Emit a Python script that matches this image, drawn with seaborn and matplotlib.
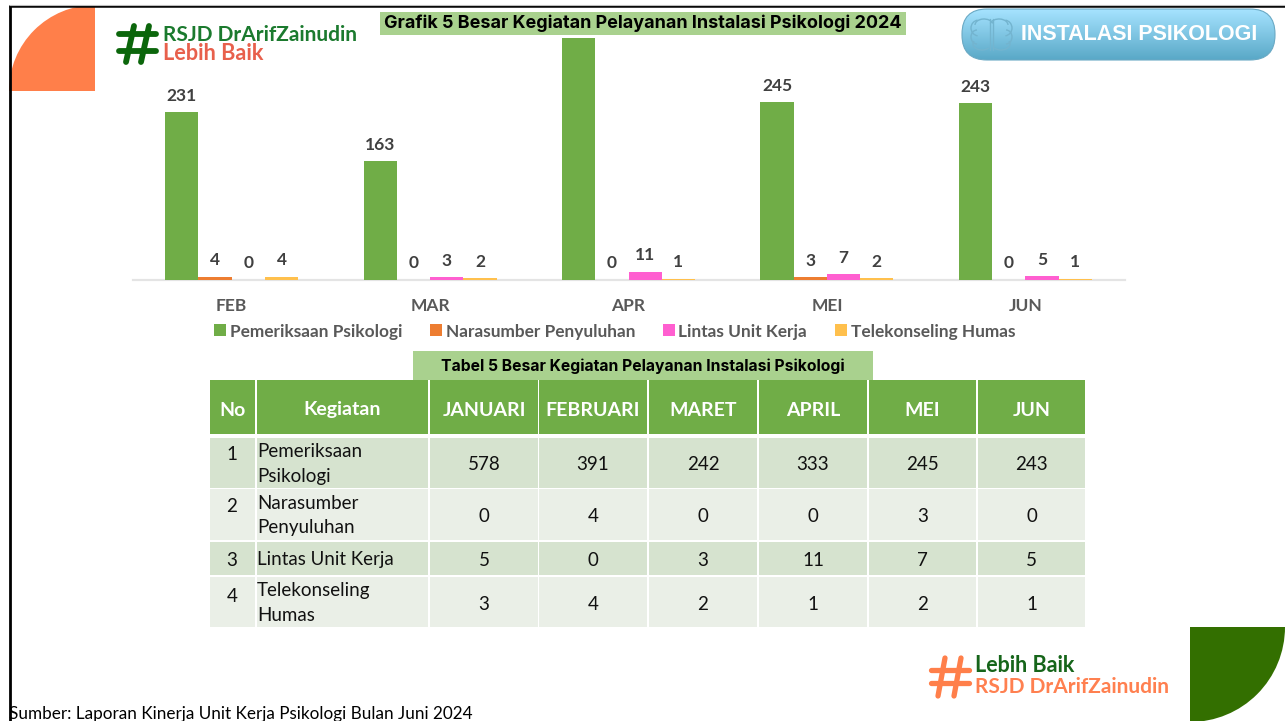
import numpy as np
import pandas as pd
import matplotlib
matplotlib.use('Agg')
import matplotlib.pyplot as plt
import seaborn as sns
from matplotlib.patches import Rectangle, Wedge, FancyBboxPatch, Arc
from matplotlib.lines import Line2D

# chart values
months = ['FEB', 'MAR', 'APR', 'MEI', 'JUN']
pemeriksaan = [231, 163, 333, 245, 243]
narasumber = [4, 0, 0, 3, 0]
lintas = [0, 3, 11, 7, 5]
telekonseling = [4, 2, 1, 2, 1]
series_names = ['Pemeriksaan Psikologi', 'Narasumber Penyuluhan', 'Lintas Unit Kerja', 'Telekonseling Humas']
series_colors = ['#70AD47', '#ED7D31', '#FF5FD0', '#FFC04D']

# table values
table_header = ['No', 'Kegiatan', 'JANUARI', 'FEBRUARI', 'MARET', 'APRIL', 'MEI', 'JUN']
table_no = ['1', '2', '3', '4']
table_names = ['Pemeriksaan\nPsikologi', 'Narasumber\nPenyuluhan', 'Lintas Unit Kerja', 'Telekonseling\nHumas']
table_rows = [
    [578, 391, 242, 333, 245, 243],
    [0, 4, 0, 0, 3, 0],
    [5, 0, 3, 11, 7, 5],
    [3, 4, 2, 1, 2, 1],
]

sns.set_theme(style='white')
plt.rcParams['font.family'] = ['Lato', 'DejaVu Sans']

W, H = 1285, 721
fig = plt.figure(figsize=(W / 100, H / 100), dpi=100, facecolor='white')

# ---- bar chart ----
ax = fig.add_axes([132.5 / W, 1 - 279.5 / H, (1124 - 132) / W, (279.5 - 10) / H])
df = pd.DataFrame({
    'bulan': months * 4,
    'kegiatan': np.repeat(series_names, len(months)),
    'jumlah': pemeriksaan + narasumber + lintas + telekonseling,
})
sns.barplot(data=df, x='bulan', y='jumlah', hue='kegiatan', hue_order=series_names,
            palette=series_colors, width=0.67, gap=0, saturation=1, linewidth=0, ax=ax, legend=True)
ax.set_xlim(-0.5, 4.5)
ax.set_ylim(0, 372)
ax.set_xlabel('')
ax.set_ylabel('')
ax.set_yticks([])
for c, vals in zip(ax.containers, [pemeriksaan, narasumber, lintas, telekonseling]):
    # the APR label sits behind the title bar in the original, so it stays blank
    labels = ['' if v == 333 else str(v) for v in vals]
    ax.bar_label(c, labels=labels, padding=6, fontsize=12.5, fontweight='bold', color='#404040')
sns.despine(ax=ax, left=True)
ax.spines['bottom'].set_color('#E4E4E4')
ax.spines['bottom'].set_linewidth(1.6)
ax.spines['bottom'].set_zorder(0.5)
ax.tick_params(axis='x', length=0, pad=13.5, labelsize=12.5, labelcolor='#595959')
for t in ax.get_xticklabels():
    t.set_fontweight('bold')
ax.patch.set_alpha(0)
ax.legend(loc='center', bbox_to_anchor=((614.5 - 132.5) / 992, (279.5 - 331.5) / 269.5), ncol=4, frameon=False,
          prop={'size': 12.4, 'weight': 'bold'}, labelcolor='#595959',
          handlelength=0.69, handleheight=0.69, handletextpad=0.23, columnspacing=1.6,
          borderpad=0, borderaxespad=0)

# ---- everything else, in pixel coordinates ----
ov = fig.add_axes([0, 0, 1, 1], zorder=5)
ov.set_xlim(0, W)
ov.set_ylim(H, 0)
ov.axis('off')

# slide border
ov.add_line(Line2D([9.5, 9.5], [5, H], color='black', lw=2, solid_capstyle='butt'))
ov.add_line(Line2D([9, W], [6, 6], color='black', lw=1.8, solid_capstyle='butt'))
ov.add_line(Line2D([9, W], [4.5, 4.5], color='#BDBDBD', lw=0.8, solid_capstyle='butt'))

# corner shapes
ov.add_patch(Wedge((95, 91), 86, 180, 270, fc='#FF7F4A', ec='none'))
ov.add_patch(Wedge((1190, 627), 95, 0, 90, fc='#336F00', ec='none'))


def draw_hash(x0, x1, ys, tops, bottoms, y_top, y_bot, color, lw):
    for y in ys:
        ov.add_line(Line2D([x0, x1], [y, y], color=color, lw=lw, solid_capstyle='round'))
    for a, b in zip(tops, bottoms):
        ov.add_line(Line2D([a, b], [y_top, y_bot], color=color, lw=lw, solid_capstyle='round'))


# top logo
draw_hash(119, 156, [34, 51], [134, 149], [126, 141], 26, 62, '#0B660B', 4.2)
ov.text(163, 35, 'RSJD DrArifZainudin', fontsize=15.05, fontweight='bold', color='#1B7A2E', va='center')
ov.text(163, 53, 'Lebih Baik', fontsize=15.6, fontweight='bold', color='#E8604C', va='center')

# bottom logo
draw_hash(931, 969, [670, 683], [945, 961], [938, 954], 658, 696, '#FF7F4A', 3.8)
ov.text(975, 665, 'Lebih Baik', fontsize=15.5, fontweight='bold', color='#16651A', va='center')
ov.text(975, 687, 'RSJD DrArifZainudin', fontsize=15.05, fontweight='bold', color='#FF8050', va='center')

# title bars
ov.add_patch(Rectangle((380, 12), 526, 23, fc='#A9D18E', ec='none'))
ov.text(643, 23, 'Grafik 5 Besar Kegiatan Pelayanan Instalasi Psikologi 2024', fontsize=12.95,
        family='Inter', fontweight='bold', color='black', ha='center', va='center')
ov.add_patch(Rectangle((413, 351), 460, 29, fc='#A9D18E', ec='none'))
ov.text(643, 366, 'Tabel 5 Besar Kegiatan Pelayanan Instalasi Psikologi', fontsize=11.3,
        family='Inter', fontweight='bold', color='black', ha='center', va='center')

# button with gradient
grad = np.linspace(0, 1, 64)[:, None, None] * (np.array([0.35, 0.66, 0.78]) - np.array([0.65, 0.89, 1.0])) + np.array([0.65, 0.89, 1.0])
box = FancyBboxPatch((962, 9), 313, 51, boxstyle='round,pad=0,rounding_size=25', fc='none', ec='#6AA9C4', lw=0.8)
ov.add_patch(box)
im = ov.imshow(grad, extent=(962, 1275, 60, 9), aspect='auto', zorder=1)
im.set_clip_path(box)
ov.set_xlim(0, W)
ov.set_ylim(H, 0)
box.set_zorder(2)

# brain icon
brain = '#73B4CF'
for cx, cy, w, h, a, b in [(979, 28, 16, 16, 100, 260), (977, 37, 12, 14, 90, 270), (982, 44, 18, 12, 30, 200),
                           (984, 25, 18, 12, 180, 350), (1004, 28, 16, 16, 280, 80), (1006, 37, 12, 14, 270, 90),
                           (1001, 44, 18, 12, 340, 150), (999, 25, 18, 12, 190, 360)]:
    ov.add_patch(Arc((cx, cy), w, h, theta1=a, theta2=b, color=brain, lw=1, zorder=3))
for x in [990, 993]:
    ov.add_line(Line2D([x, x], [19, 50], color=brain, lw=1, zorder=3))
ov.text(1139, 35, 'INSTALASI PSIKOLOGI', fontsize=15.5, fontweight='bold', color='white',
        family='Liberation Sans', ha='center', va='center', zorder=4)

# table
col_edges = [(210, 255), (257, 428), (430, 538), (539, 647), (649, 757), (759, 867), (869, 976), (978, 1085)]
row_edges = [(438, 488), (489, 540), (542, 575), (577, 627)]
row_colors = ['#D6E3CF', '#EAEFE7', '#D6E3CF', '#EAEFE7']
no_y = [455, 507, 560, 596]

for (x0, x1), label in zip(col_edges, table_header):
    ov.add_patch(Rectangle((x0, 380), x1 - x0, 54, fc='#70AD47', ec='none'))
    ov.text((x0 + x1) / 2, 410, label, fontsize=14, fontweight='bold', color='white', ha='center', va='center')

for i, (y0, y1) in enumerate(row_edges):
    for x0, x1 in col_edges:
        ov.add_patch(Rectangle((x0, y0), x1 - x0, y1 - y0, fc=row_colors[i], ec='none'))
    ov.text(232, no_y[i], table_no[i], fontsize=13.5, color='#111111', ha='center', va='center')
    ov.text(257, (y0 + y1) / 2 + 1, table_names[i], fontsize=13.5, color='#111111', ha='left', va='center', linespacing=1.55)
    for (x0, x1), v in zip(col_edges[2:], table_rows[i]):
        ov.text((x0 + x1) / 2, (y0 + y1) / 2 + 2, str(v), fontsize=13.5, color='#111111', ha='center', va='center')

# source note
ov.text(9, 714, 'Sumber: Laporan Kinerja Unit Kerja Psikologi Bulan Juni 2024', fontsize=12.3, color='black',
        ha='left', va='center')

fig.savefig('out.png', dpi=100)
